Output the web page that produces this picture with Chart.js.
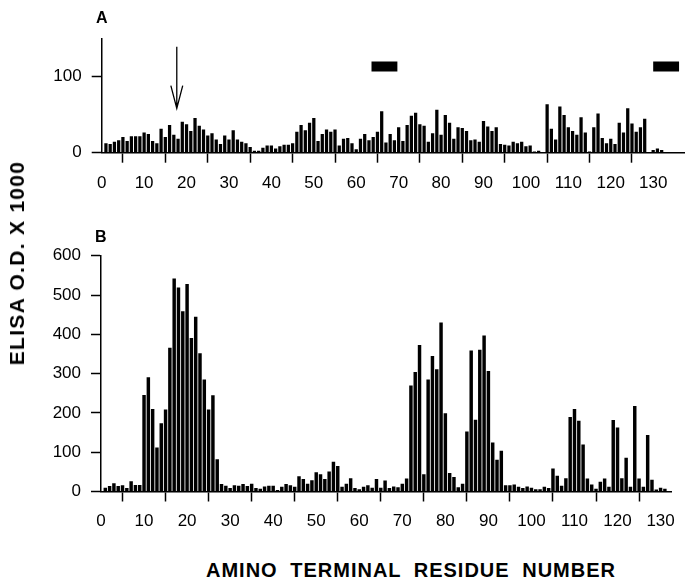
<!DOCTYPE html>
<html>
<head>
<meta charset="utf-8">
<script src="https://cdn.jsdelivr.net/npm/chart.js@4.4.0/dist/chart.umd.min.js"></script>
<style>
  body { margin:0; background:#fff; width:685px; height:582px; position:relative; overflow:hidden; font-family:"Liberation Sans", Arial, sans-serif; }
  .wrap { position:absolute; left:0; }
  .ytitle { position:absolute; left:17px; top:263px; transform:translate(-50%,-50%) rotate(-90deg); font-weight:bold; font-size:21px; letter-spacing:1.3px; white-space:nowrap; color:#000; }
  .xtitle { position:absolute; left:411px; top:570px; transform:translate(-50%,-50%); font-weight:bold; font-size:20px; letter-spacing:1px; word-spacing:6px; white-space:nowrap; color:#000; }
</style>
</head>
<body>
<div class="wrap" style="top:0"><canvas id="chartA" width="685" height="200"></canvas></div>
<div class="wrap" style="top:220px"><canvas id="chartB" width="685" height="320"></canvas></div>
<div class="ytitle">ELISA O.D. X 1000</div>
<div class="xtitle">AMINO TERMINAL RESIDUE NUMBER</div>
<script>
// residue numbers 1..132
const residues = Array.from({length:132}, (_, i) => i + 1);

// panel A (values x 1000)
const valuesA = [12,11,14,16,20,15,21,21,21,26, 24,15,12,31,20,36,23,18,40,37,
                 28,45,35,30,22,25,17,11,22,17, 29,17,14,12,7,2,2,6,9,9,
                 5,8,10,10,12,27,36,29,39,45, 15,24,30,27,30,9,18,19,12,4,
                 18,24,16,20,27,54,13,24,16,33, 15,36,48,52,37,35,14,25,56,23,
                 49,39,18,33,32,28,16,17,14,41, 34,28,33,11,10,9,14,12,14,8,
                 9,1,2,0,63,31,17,60,49,33, 28,23,46,26,1,33,51,19,12,18,
                 11,39,26,58,38,27,33,44,0,3, 5,3];

// panel B (values x 1000)
const valuesB = [9,13,20,13,15,8,25,16,16,245, 290,209,111,173,208,365,541,518,458,527,
                 390,444,351,284,208,244,81,18,14,8, 15,14,18,13,19,8,6,12,14,14,
                 3,11,18,15,11,38,31,19,28,48, 43,31,50,75,64,11,19,33,8,5,
                 11,15,9,31,9,27,8,12,10,19, 32,269,303,372,43,284,344,310,429,198,
                 46,36,10,19,152,358,182,360,396,306, 124,80,103,15,15,17,11,8,12,9,
                 5,5,11,8,58,39,14,33,189,209, 179,119,32,17,6,24,32,11,181,162,
                 33,85,11,217,32,11,143,29,4,9, 6,0];

const xTickValues = [0,10,20,30,40,50,60,70,80,90,100,110,120,130];
const yTicksA = [0, 100];
const yTicksB = [0, 100, 200, 300, 400, 500, 600];

// black bars over panel A (residue ranges)
const markerStart = [63.6, 130.0];
const markerEnd = [69.7, 136.1];
const markerLevel = 113;

// arrow in panel A
const arrowAt = 17.7;
const arrowTop = 139;
const arrowTip = 58;
const arrowWing = 88;
const arrowHalf = 1.4;

const panelLabel = {
  id: 'panelLabel',
  afterDraw(chart, args, opts) {
    const ctx = chart.ctx, area = chart.chartArea;
    ctx.save();
    ctx.font = 'bold 16px "Liberation Sans", Arial, sans-serif';
    ctx.fillStyle = '#000';
    ctx.textBaseline = 'alphabetic';
    ctx.fillText(opts.text, area.left + opts.dx, area.top + opts.dy);
    ctx.restore();
  }
};

// only real ticks get a mark
function tickCol(list) {
  return c => (c.tick && list.includes(c.tick.value)) ? '#000' : 'rgba(0,0,0,0)';
}

function panel(id, o) {
  return new Chart(document.getElementById(id), {
    type: 'bar',
    data: {
      datasets: [{
        data: residues.map((r, i) => ({x: r, y: o.values[i]})),
        backgroundColor: '#000',
        borderWidth: 0,
        barThickness: o.barWidth
      }].concat(o.extra || [])
    },
    options: {
      responsive: false,
      animation: false,
      layout: {padding: {top: o.padTop, right: o.padRight, left: 0, bottom: 0}},
      plugins: {
        legend: {display: false},
        tooltip: {enabled: false},
        panelLabel: {text: o.label, dx: o.labelDx, dy: o.labelDy}
      },
      scales: {
        x: {
          type: 'linear', min: 0, max: o.xMax, offset: false,
          afterBuildTicks: s => { s.ticks = xTickValues.map(v => ({value: v})); },
          afterFit: s => { s.height = o.xHeight; },
          grid: {drawOnChartArea: false, drawTicks: true, tickLength: 10, tickWidth: 1.5, tickColor: tickCol(xTickValues)},
          border: {color: '#000', width: 1.5},
          ticks: {font: {size: 17, family: '"Liberation Sans", Arial'}, color: '#000', padding: 10, maxRotation: 0, autoSkip: false}
        },
        y: {
          min: 0, max: o.yMax,
          afterBuildTicks: s => { s.ticks = o.yTicks.map(v => ({value: v})); },
          afterFit: s => { s.width = o.yWidth; },
          grid: {drawOnChartArea: false, drawTicks: true, tickLength: 10, tickWidth: 1.5, tickColor: tickCol(o.yTicks)},
          border: {color: '#000', width: 1.5},
          ticks: {font: {size: 17, family: '"Liberation Sans", Arial'}, color: '#000', padding: 10}
        }
      }
    },
    plugins: [panelLabel]
  });
}

const markerData = [];
markerStart.forEach((s, i) => {
  if (i > 0) markerData.push({x: s - 1, y: null});
  markerData.push({x: s, y: markerLevel}, {x: markerEnd[i], y: markerLevel});
});

panel('chartA', {
  values: valuesA, yTicks: yTicksA, yMax: 150, xMax: 137.5,
  barWidth: 2.6, padTop: 38.3, padRight: 0, xHeight: 47.3, yWidth: 101.7,
  label: 'A', labelDx: -5.7, labelDy: -15,
  extra: [
    {type: 'line', data: markerData, borderColor: '#000', borderWidth: 10, borderCapStyle: 'butt',
     pointRadius: 0, spanGaps: false, fill: false},
    {type: 'line', borderColor: '#000', borderWidth: 1.3, pointRadius: 0, spanGaps: false, fill: false,
     data: [{x: arrowAt, y: arrowTop}, {x: arrowAt, y: arrowTip}, {x: arrowAt, y: null},
            {x: arrowAt - arrowHalf, y: arrowWing}, {x: arrowAt, y: arrowTip}, {x: arrowAt + arrowHalf, y: arrowWing}]}
  ]
});

panel('chartB', {
  values: valuesB, yTicks: yTicksB, yMax: 600, xMax: 132.5,
  barWidth: 2.8, padTop: 35.7, padRight: 12.5, xHeight: 48.5, yWidth: 101,
  label: 'B', labelDx: -6, labelDy: -14
});
</script>
</body>
</html>
